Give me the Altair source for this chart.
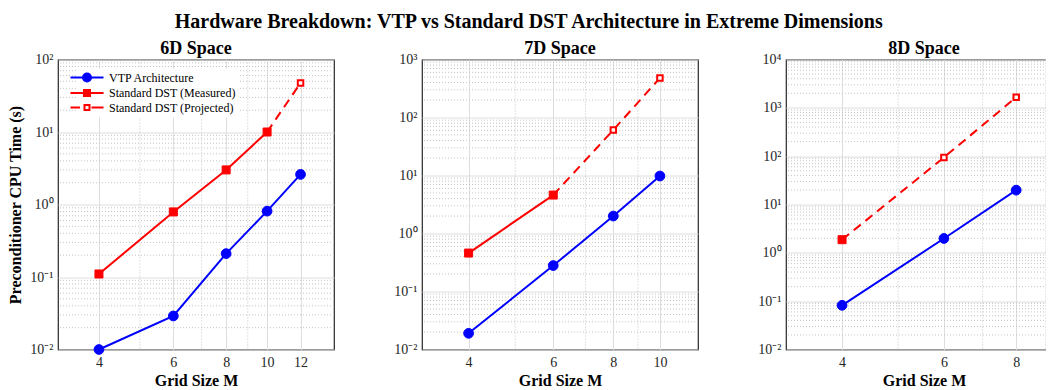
import altair as alt
import pandas as pd

FONT = "Liberation Serif"

SERIES = ["VTP Architecture", "Standard DST (Measured)", "Standard DST (Projected)"]
STROKES = ["#0000ff", "#ff0000", "#ff0000"]
FILLS = ["#0000ff", "#ff0000", "#ffffff"]

PANEL_TITLES = ["6D Space", "7D Space", "8D Space"]

# ---- 6D ----
m6_vtp = [4, 6, 8, 10, 12]
t6_vtp = [0.01, 0.029, 0.21, 0.81, 2.6]
m6_meas = [4, 6, 8, 10]
t6_meas = [0.11, 0.79, 3.0, 10.0]
m6_proj = [10, 12]
t6_proj = [10.0, 47.5]

# ---- 7D ----
m7_vtp = [4, 6, 8, 10]
t7_vtp = [0.019, 0.28, 2.0, 9.8]
m7_meas = [4, 6]
t7_meas = [0.46, 4.6]
m7_proj = [6, 8, 10]
t7_proj = [4.6, 61.0, 480.0]

# ---- 8D ----
m8_vtp = [4, 6, 8]
t8_vtp = [0.082, 1.98, 19.8]
m8_meas = [4]
t8_meas = [1.87]
m8_proj = [4, 6, 8]
t8_proj = [1.87, 94.0, 1660.0]

X_DOMAINS = [[3.2, 14.4], [3.2, 12.0], [3.2, 9.6]]
X_TICKS = [[4, 6, 8, 10, 12], [4, 6, 8, 10], [4, 6, 8]]
X_MINOR = [[5, 7, 9], [5, 7, 9], [5, 7, 9]]
Y_DOMAINS = [[1e-2, 1e2], [1e-2, 1e3], [1e-2, 1e4]]
Y_TICKS = [[1e-2, 1e-1, 1e0, 1e1, 1e2],
           [1e-2, 1e-1, 1e0, 1e1, 1e2, 1e3],
           [1e-2, 1e-1, 1e0, 1e1, 1e2, 1e3, 1e4]]
Y_TICK_LABELS = ["10\u207b\u00b2", "10\u207b\u00b9", "10\u2070", "10\u00b9", "10\u00b2", "10\u00b3", "10\u2074"]
MINOR_MULT = [2, 3, 4, 5, 6, 7, 8, 9]

DATA = [
    (m6_vtp, t6_vtp, m6_meas, t6_meas, m6_proj, t6_proj),
    (m7_vtp, t7_vtp, m7_meas, t7_meas, m7_proj, t7_proj),
    (m8_vtp, t8_vtp, m8_meas, t8_meas, m8_proj, t8_proj),
]

# legend symbol paths (line + marker)
LEG_VTP = "M-3.3,0H3.3M0.8,0A0.8,0.8,0,1,1,-0.8,0A0.8,0.8,0,1,1,0.8,0Z"
LEG_MEAS = "M-3.3,0H3.3M-0.6,-0.6H0.6V0.6H-0.6Z"
LEG_PROJ = "M-3.3,0H-1.4M0.9,0H3.3M-0.5,-0.5H0.5V0.5H-0.5Z"
LEG_SHAPES = [LEG_VTP, LEG_MEAS, LEG_PROJ]

ylab_expr = "[" + ",".join("'%s'" % s for s in Y_TICK_LABELS) + "][round(log(datum.value)/LN10)+2]"


def panel(i, show_legend, show_ytitle):
    mv, tv, mm, tm, mp, tp = DATA[i]
    rows = []
    for m, t in zip(mv, tv):
        rows.append({"series": SERIES[0], "M": m, "t": t, "marker": True})
    for m, t in zip(mm, tm):
        rows.append({"series": SERIES[1], "M": m, "t": t, "marker": True})
    for k, (m, t) in enumerate(zip(mp, tp)):
        rows.append({"series": SERIES[2], "M": m, "t": t, "marker": k > 0})
    df = pd.DataFrame(rows)

    xs = alt.Scale(type="log", domain=X_DOMAINS[i], nice=False)
    ys = alt.Scale(type="log", domain=Y_DOMAINS[i], nice=False)

    xax = alt.Axis(values=X_TICKS[i], title="Grid Size M", format="d", ticks=False, domain=False,
                   grid=True, labelPadding=6, titleY=23, titleBaseline="top")
    if show_ytitle:
        yax = alt.Axis(values=Y_TICKS[i], labelExpr=ylab_expr, ticks=False, domain=False, grid=True,
                       title="Preconditioner CPU Time (s)", titleX=-35, titleY=145,
                       labelPadding=5)
    else:
        yax = alt.Axis(values=Y_TICKS[i], labelExpr=ylab_expr, ticks=False, domain=False, grid=True,
                       title=None, labelPadding=5)

    leg = None
    if show_legend:
        leg = alt.Legend(
            title=None, orient="none", legendX=20, legendY=9, padding=3,
            labelFont=FONT, labelFontSize=12, labelColor="#000000", labelOffset=16,
            rowPadding=0.5, symbolSize=100, symbolStrokeWidth=2, fillColor="#ffffff",
        )

    ymin = [m * d for d in Y_TICKS[i][:-1] for m in MINOR_MULT]
    vgrid = alt.Chart(pd.DataFrame({"v": X_MINOR[i]})).mark_rule(
        color="#c4c4c4", strokeDash=[1, 2], strokeWidth=1).encode(
        x=alt.X("v:Q", scale=xs, axis=xax))
    hgrid = alt.Chart(pd.DataFrame({"v": ymin})).mark_rule(
        color="#c4c4c4", strokeDash=[1, 2], strokeWidth=1).encode(
        y=alt.Y("v:Q", scale=ys, axis=yax))

    sc_stroke = alt.Scale(domain=SERIES, range=STROKES)
    sc_fill = alt.Scale(domain=SERIES, range=FILLS)
    sc_shape = alt.Scale(domain=SERIES, range=LEG_SHAPES)

    X = alt.X("M:Q", scale=xs, axis=xax)
    Y = alt.Y("t:Q", scale=ys, axis=yax)
    STR = alt.Stroke("series:N", scale=sc_stroke, legend=leg)
    FIL = alt.Fill("series:N", scale=sc_fill, legend=leg)

    solid = alt.Chart(df).transform_filter(
        "datum.series !== '%s'" % SERIES[2]).mark_line(strokeWidth=2).encode(
        x=X, y=Y, stroke=STR, order="M:Q")
    dashed = alt.Chart(df).transform_filter(
        "datum.series === '%s'" % SERIES[2]).mark_line(strokeWidth=2, strokeDash=[9, 6]).encode(
        x=X, y=Y, stroke=STR, order="M:Q")

    def pts(sel, shape, size, sw):
        return alt.Chart(df).transform_filter(
            "datum.marker && datum.series === '%s'" % sel).mark_point(
            filled=True, shape=shape, size=size, strokeWidth=sw, opacity=1).encode(
            x=X, y=Y, stroke=STR, fill=FIL)

    layers = [vgrid, hgrid, solid, dashed,
              pts(SERIES[0], "circle", 95, 1),
              pts(SERIES[1], "square", 64, 1),
              pts(SERIES[2], "square", 30, 2)]

    if show_legend:
        legend_layer = alt.Chart(df).transform_filter("false").mark_point(
            filled=True, opacity=1, strokeWidth=2).encode(
            x=X, y=Y, stroke=STR, fill=FIL,
            shape=alt.Shape("series:N", scale=sc_shape, legend=leg),
        )
        layers.append(legend_layer)

    return alt.layer(*layers).properties(
        width=276, height=290,
        title=alt.TitleParams(PANEL_TITLES[i], font=FONT, fontSize=18, fontWeight="bold",
                              color="#000000", offset=4, dy=9),
    )


chart = alt.hconcat(
    panel(0, True, True), panel(1, False, False), panel(2, False, False),
    spacing=88, bounds="flush",
).resolve_scale(
    x="independent", y="independent", stroke="independent", fill="independent",
    shape="independent",
).resolve_legend(
    stroke="independent", fill="independent", shape="independent",
).properties(
    title=alt.TitleParams(
        "Hardware Breakdown: VTP vs Standard DST Architecture in Extreme Dimensions",
        font=FONT, fontSize=20, fontWeight="bold", color="#000000", anchor="middle", offset=8,
        dx=-6, dy=1),
    autosize=alt.AutoSizeParams(type="none"),
    padding={"left": 50, "top": 51.5, "right": 988, "bottom": 330.5},
).configure(
    font=FONT,
).configure_view(
    stroke="#262626", strokeWidth=1.2,
).configure_axis(
    labelFont=FONT, labelFontSize=14, labelColor="#262626",
    titleFont=FONT, titleFontSize=16, titleFontWeight="bold", titleColor="#000000",
    gridColor="#dedede", gridWidth=1,
)

chart.save("out.html", embed_options={"renderer": "svg", "actions": False})
